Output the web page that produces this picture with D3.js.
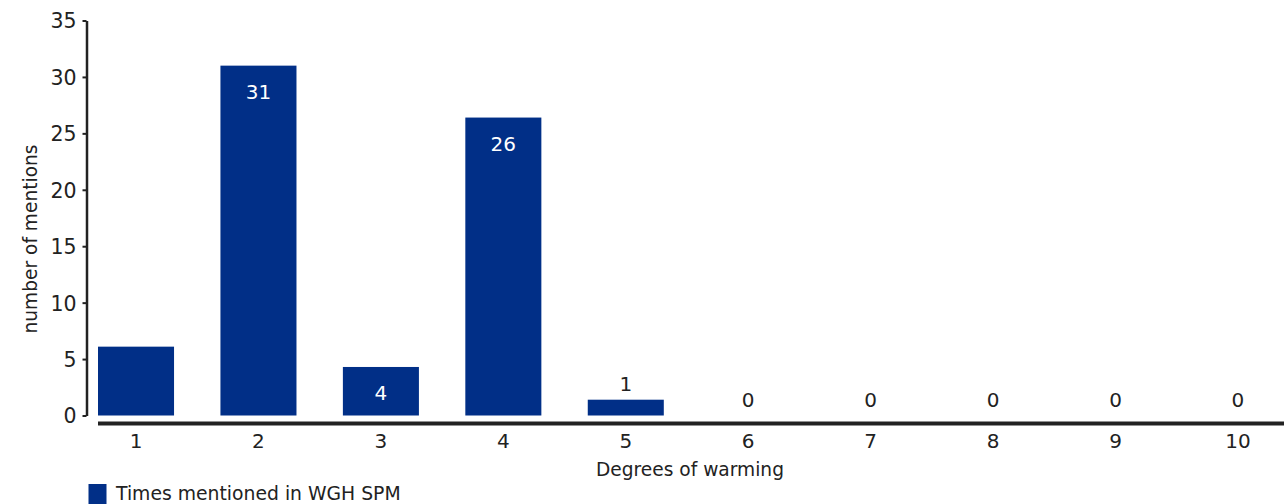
<!DOCTYPE html>
<html>
<head>
<meta charset="utf-8">
<script src="https://cdn.jsdelivr.net/npm/d3@7"></script>
<style>
  html, body { margin: 0; padding: 0; background: #ffffff; }
  svg { display: block; }
  text { font-family: "DejaVu Sans", "Noto Sans", sans-serif; fill: #222222; }
</style>
</head>
<body>
<svg id="chart" width="1284" height="504"></svg>
<script>
// ---- data ----
const categories = ["1", "2", "3", "4", "5", "6", "7", "8", "9", "10"];
const mentions = [6.1, 31, 4.3, 26.4, 1.4, 0, 0, 0, 0, 0];
const valueLabels = ["", "31", "4", "26", "1", "0", "0", "0", "0", "0"];
const yTicks = [0, 5, 10, 15, 20, 25, 30, 35];
const seriesName = "Times mentioned in WGH SPM";
const xTitle = "Degrees of warming";
const yTitle = "number of mentions";

// ---- layout ----
const W = 1284, H = 504;
const barColor = "#012f87";
const ink = "#222222";

const svg = d3.select("#chart");

const x = d3.scaleBand()
  .domain(categories)
  .range([74.8, 1299.2])
  .paddingInner(0.379)
  .paddingOuter(0.1895);

const y = d3.scaleLinear()
  .domain([0, 35])
  .range([415.5, 20.5]);

// y axis
const yAxis = d3.axisLeft(y).tickValues(yTicks).tickSize(4).tickPadding(6).tickSizeOuter(0);
const gy = svg.append("g").attr("transform", "translate(86.5,0)").call(yAxis);
gy.select(".domain").attr("stroke", ink).attr("stroke-width", 2.5);
gy.selectAll(".tick line").attr("stroke", ink).attr("stroke-width", 2);
gy.selectAll(".tick text")
  .attr("font-size", 20.5)
  .attr("font-family", "DejaVu Sans, sans-serif")
  .attr("fill", ink)
  .attr("dy", "0.36em");

// bars
svg.append("g").selectAll("rect")
  .data(mentions)
  .join("rect")
  .attr("x", (d, i) => x(categories[i]))
  .attr("width", x.bandwidth())
  .attr("y", d => y(d))
  .attr("height", d => y(0) - y(d))
  .attr("fill", barColor);

// x axis (thick baseline)
const xAxis = d3.axisBottom(x).tickSize(0).tickPadding(14).tickSizeOuter(0);
const gx = svg.append("g").attr("transform", "translate(0,423.5)").call(xAxis);
gx.select(".domain")
  .attr("d", `M${x(categories[0])},0H${W}`)
  .attr("stroke", ink)
  .attr("stroke-width", 4);
gx.selectAll(".tick text")
  .attr("font-size", 20)
  .attr("font-family", "DejaVu Sans, sans-serif")
  .attr("fill", "#333333")
  .attr("dy", "0.5em");

// value labels
svg.append("g").selectAll("text")
  .data(mentions)
  .join("text")
  .attr("x", (d, i) => x(categories[i]) + x.bandwidth() / 2)
  .attr("y", (d, i) => d >= 4 ? y(d) + 26 : y(d) - 15.5)
  .attr("text-anchor", "middle")
  .attr("dominant-baseline", "central")
  .attr("font-size", 20)
  .style("fill", d => d >= 4 ? "#ffffff" : ink)
  .text((d, i) => valueLabels[i]);

// axis titles
svg.append("text")
  .attr("x", 690)
  .attr("y", 469)
  .attr("text-anchor", "middle")
  .attr("dominant-baseline", "central")
  .attr("font-size", 18.6)
  .text(xTitle);

svg.append("text")
  .attr("transform", "translate(30,239) rotate(-90)")
  .attr("text-anchor", "middle")
  .attr("dominant-baseline", "central")
  .attr("font-size", 18.6)
  .text(yTitle);

// legend
const lg = svg.append("g");
lg.append("rect")
  .attr("x", 88.5).attr("y", 484)
  .attr("width", 18).attr("height", 20)
  .attr("fill", barColor);
lg.append("text")
  .attr("x", 116)
  .attr("y", 493.5)
  .attr("dominant-baseline", "central")
  .attr("font-size", 18.8)
  .text(seriesName);
</script>
</body>
</html>
